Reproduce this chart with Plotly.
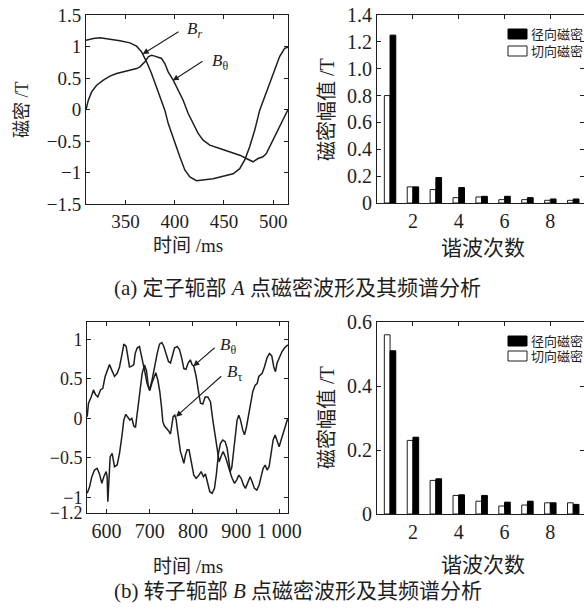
import plotly.graph_objects as go

# ---------------- data ----------------
# (a) stator yoke point A
time_a_r = [310, 317.4, 324.2, 334.3, 344.4, 354.6, 361.3, 366.4, 371.5, 376.5, 381.6, 386.7, 390, 393.4,
            396.8, 400.2, 405.2, 410.3, 415.4, 422.1, 428.9, 439, 449.1, 459.3, 466, 471.1, 476.1, 481.2,
            486.3, 491.3, 496.4, 501.5, 506.5, 511.6, 515]
b_a_r = [1.10, 1.127, 1.138, 1.116, 1.09, 1.058, 1.005, 0.915, 0.757, 0.571, 0.36, 0.148, -0.01, -0.22,
         -0.38, -0.54, -0.75, -0.96, -1.07, -1.13, -1.12, -1.10, -1.06, -1.02, -0.94, -0.80, -0.59, -0.33,
         -0.01, 0.20, 0.41, 0.62, 0.84, 0.97, 0.99]
time_a_t = [310, 312.4, 315.7, 320.8, 327.6, 334.3, 341.1, 347.8, 354.6, 361.3, 364.7, 369.8, 373.2, 376.5,
            379.9, 383.3, 386.7, 390, 393.4, 398.5, 403.5, 408.6, 413.7, 418.7, 423.8, 428.9, 435.6, 445.8,
            455.9, 466, 472.8, 479.5, 484.6, 489.6, 493, 498.1, 503.1, 508.2, 513.3, 515]
b_a_t = [0.0, 0.148, 0.28, 0.386, 0.466, 0.53, 0.571, 0.598, 0.624, 0.65, 0.677, 0.757, 0.836, 0.862,
         0.847, 0.825, 0.81, 0.73, 0.598, 0.466, 0.307, 0.148, -0.063, -0.22, -0.38, -0.487, -0.566, -0.62,
         -0.67, -0.725, -0.778, -0.83, -0.778, -0.75, -0.70, -0.54, -0.38, -0.22, -0.063, 0.0]

# (b) rotor yoke point B
time_b_t = [555.4, 558.5, 564.6, 570, 574.6, 580, 586.2, 591.6, 597, 603.2, 607, 612.4, 618.6, 624.8, 630.2,
            635.6, 640.2, 645.6, 649.5, 653.3, 658.7, 663.3, 666.4, 671, 676.4, 681.8, 688, 694.1, 699.5,
            705.7, 711.1, 717.3, 722.7, 728.1, 732.7, 738.1, 743.5, 748.1, 752, 757.4, 763.5, 769, 774.3,
            779, 784, 789, 794, 798, 802, 807.5, 812.9, 817.5, 822.9, 828.3, 834.5, 840.6, 846, 851.4,
            856.1, 860.7, 865.3, 869.9, 876, 881, 886, 890, 894, 898, 902.3, 906.2, 910, 915.4, 919.3,
            923.9, 928.5, 933.2, 938.6, 944, 948.6, 952.4, 956.3, 960.1, 965.5, 971.7, 977.1, 982.5, 987.1,
            991, 994.8, 1000.2, 1005.6, 1011.8, 1019.5]
b_b_t = [0.02, 0.19, 0.27, 0.36, 0.30, 0.27, 0.36, 0.38, 0.53, 0.61, 0.68, 0.61, 0.53, 0.57, 0.65,
         0.80, 0.94, 0.91, 0.76, 0.65, 0.66, 0.68, 0.82, 0.89, 0.91, 0.78, 0.61, 0.44, 0.36,
         0.49, 0.65, 0.82, 0.94, 0.96, 0.91, 0.80, 0.72, 0.70, 0.78, 0.89, 0.91, 0.87, 0.76,
         0.63, 0.62, 0.70, 0.74, 0.68, 0.66, 0.53, 0.34, 0.19, 0.18, 0.27, 0.27, 0.21, -0.02, -0.23,
         -0.40, -0.55, -0.48, -0.42, -0.50, -0.60, -0.68, -0.62, -0.44, -0.23, -0.02, 0.04, -0.02, -0.15, -0.21,
         -0.11, 0.02, 0.19, 0.34, 0.42, 0.44, 0.53, 0.55, 0.57, 0.65, 0.77, 0.82, 0.79, 0.65,
         0.59, 0.70, 0.78, 0.84, 0.89, 0.93]
time_b_r = [555.4, 560.8, 566.2, 572.3, 578.5, 583.9, 589.3, 593.9, 599.3, 601.6, 603.2, 605.5, 608.6, 613.2,
            618.6, 624.8, 630.2, 635.6, 640.2, 644.8, 649.5, 654.1, 658.7, 663.3, 667.2, 671, 674.9, 678.7,
            682.6, 688, 692.6, 696.5, 700.3, 705, 709.6, 714.2, 718.8, 723.4, 727.3, 730.4, 734.2, 738.9,
            743.5, 748.1, 751.2, 754.3, 758.1, 761.2, 764.3, 767.4, 771.2, 775.9, 779, 782.8, 786.7, 791,
            797.5, 802.1, 807.5, 812.9, 819, 824.4, 829, 834.5, 839.1, 844.5, 849.9, 854.5, 859.1, 863.8,
            869.2, 874.6, 879.2, 883, 886.9, 890.8, 896.2, 901.5, 906.2, 911.6, 917, 921.6, 927, 932.4,
            937, 942.4, 947.8, 953.2, 957.8, 962.5, 967.1, 971.7, 976.3, 981, 985.6, 990.2, 994.8, 999.5,
            1004.1, 1009.5, 1014.9, 1019.5]
b_b_r = [-0.95, -0.87, -0.74, -0.655, -0.634, -0.706, -0.824, -0.74, -0.676, -0.74, -1.057, -0.74, -0.486, -0.444,
         -0.613, -0.592, -0.444, -0.233, -0.022, 0.05, 0.012, -0.022, 0.0, -0.098, -0.115, 0.063, 0.265, 0.443,
         0.57, 0.675, 0.603, 0.42, 0.35, 0.443, 0.527, 0.578, 0.485, 0.337, 0.147, -0.043, -0.098, -0.127,
         -0.157, -0.199, -0.106, 0.02, 0.041, -0.013, -0.149, -0.296, -0.423, -0.507, -0.57, -0.465, -0.40, -0.40,
         -0.613, -0.72, -0.76, -0.73, -0.676, -0.74, -0.706, -0.824, -0.93, -0.95, -0.888, -0.70, -0.444, -0.317,
         -0.275, -0.296, -0.38, -0.53, -0.70, -0.76, -0.824, -0.78, -0.72, -0.76, -0.845, -0.888, -0.824, -0.74,
         -0.803, -0.888, -0.909, -0.845, -0.74, -0.634, -0.592, -0.655, -0.613, -0.444, -0.275, -0.212, -0.296, -0.36,
         -0.275, -0.17, -0.064, 0.0]

# harmonic spectra
harmonics = [1, 2, 3, 4, 5, 6, 7, 8, 9]
radial_a = [1.25, 0.12, 0.19, 0.115, 0.05, 0.05, 0.04, 0.03, 0.03]
tangential_a = [0.80, 0.12, 0.10, 0.04, 0.045, 0.025, 0.025, 0.02, 0.02]
radial_b = [0.51, 0.24, 0.11, 0.06, 0.058, 0.037, 0.04, 0.035, 0.03]
tangential_b = [0.56, 0.23, 0.105, 0.058, 0.04, 0.025, 0.028, 0.035, 0.035]

legend_radial = "径向磁密"
legend_tangential = "切向磁密"

# ---------------- figure ----------------
W, H = 584, 611
FONT = "Liberation Serif, Times New Roman, Noto Sans CJK SC, serif"
INK = "#1e1e1e"

def px_x(p):
    return p / W

def px_y(p):
    return 1 - p / H

fig = go.Figure()

line_style = dict(color=INK, width=1.5)
fig.add_trace(go.Scatter(x=time_a_r, y=b_a_r, mode="lines", line=line_style, xaxis="x", yaxis="y"))
fig.add_trace(go.Scatter(x=time_a_t, y=b_a_t, mode="lines", line=line_style, xaxis="x", yaxis="y"))
fig.add_trace(go.Scatter(x=time_b_t, y=b_b_t, mode="lines", line=line_style, xaxis="x3", yaxis="y3"))
fig.add_trace(go.Scatter(x=time_b_r, y=b_b_r, mode="lines", line=line_style, xaxis="x3", yaxis="y3"))

bw = 0.25
fig.add_trace(go.Bar(x=harmonics, y=tangential_a, name=legend_tangential, width=bw, offset=-bw,
                     marker=dict(color="white", line=dict(color=INK, width=1)), xaxis="x2", yaxis="y2"))
fig.add_trace(go.Bar(x=harmonics, y=radial_a, name=legend_radial, width=bw, offset=0,
                     marker=dict(color="black", line=dict(color="black", width=1)), xaxis="x2", yaxis="y2"))
fig.add_trace(go.Bar(x=harmonics, y=tangential_b, name=legend_tangential, width=bw, offset=-bw,
                     marker=dict(color="white", line=dict(color=INK, width=1)), xaxis="x4", yaxis="y4"))
fig.add_trace(go.Bar(x=harmonics, y=radial_b, name=legend_radial, width=bw, offset=0,
                     marker=dict(color="black", line=dict(color="black", width=1)), xaxis="x4", yaxis="y4"))


def axis(size, **kw):
    d = dict(showline=True, linecolor=INK, linewidth=1, mirror="ticks", ticks="inside",
             ticklen=4, tickcolor=INK, showgrid=False, zeroline=False, automargin=False,
             tickfont=dict(family=FONT, size=size, color=INK))
    d.update(kw)
    return d

fig.update_layout(
    template="none",
    width=W, height=H,
    margin=dict(l=0, r=0, t=0, b=0, pad=0),
    paper_bgcolor="white", plot_bgcolor="white",
    font=dict(family=FONT, color=INK),
    showlegend=False,
    xaxis=axis(19, domain=[px_x(86), px_x(288)], anchor="y", range=[310, 515],
               tickvals=[350, 400, 450, 500]),
    yaxis=axis(19, domain=[px_y(204), px_y(15)], anchor="x", range=[-1.5, 1.5],
               tickvals=[-1.5, -1, -0.5, 0, 0.5, 1, 1.5],
               ticktext=["−1.5", "−1", "−0.5", "0", "0.5", "1", "1.5"]),
    xaxis2=axis(20, domain=[px_x(377), 1.0], anchor="y2", range=[0.43, 9.47],
                tickvals=[2, 4, 6, 8]),
    yaxis2=axis(20, domain=[px_y(203), px_y(15)], anchor="x2", range=[0, 1.4],
                tickvals=[0, 0.2, 0.4, 0.6, 0.8, 1.0, 1.2, 1.4],
                ticktext=["0", "0.2", "0.4", "0.6", "0.8", "1.0", "1.2", "1.4"]),
    xaxis3=axis(20, domain=[px_x(87), px_x(288)], anchor="y3", range=[555, 1020],
                tickvals=[600, 700, 800, 900, 1000],
                ticktext=["600", "700", "800", "900", "1 000"]),
    yaxis3=axis(18, domain=[px_y(513), px_y(322)], anchor="x3", range=[-1.2, 1.22],
                tickvals=[-1.2, -1, -0.5, 0, 0.5, 1],
                ticktext=["−1.2", "−1", "−0.5", "0", "0.5", "1"]),
    xaxis4=axis(20, domain=[px_x(377), 1.0], anchor="y4", range=[0.43, 9.47],
                tickvals=[2, 4, 6, 8]),
    yaxis4=axis(20, domain=[px_y(514), px_y(322)], anchor="x4", range=[0, 0.6],
                tickvals=[0, 0.2, 0.4, 0.6], ticktext=["0", "0.2", "0.4", "0.6"]),
)

ann = []
def text_ann(x, y, text, size, xref="paper", yref="paper", xanchor="center", yanchor="middle", angle=0):
    ann.append(dict(x=x, y=y, xref=xref, yref=yref, text=text, showarrow=False,
                    xanchor=xanchor, yanchor=yanchor, textangle=angle,
                    font=dict(family=FONT, size=size, color=INK)))

# axis titles
text_ann(px_x(22), px_y(110), "磁密 /T", 18, angle=-90)
text_ann(px_x(188), px_y(245), "时间 /ms", 19)
text_ann(px_x(327), px_y(110), "磁密幅值 /T", 20, angle=-90)
text_ann(px_x(483), px_y(248), "谐波次数", 21)
text_ann(px_x(327), px_y(418), "磁密幅值 /T", 20, angle=-90)
text_ann(px_x(188), px_y(566), "时间 /ms", 19)
text_ann(px_x(483), px_y(565), "谐波次数", 21)
# captions
text_ann(px_x(112), px_y(288), "(a) 定子轭部 <i>A</i> 点磁密波形及其频谱分析", 21, xanchor="left")
text_ann(px_x(112), px_y(591), "(b) 转子轭部 <i>B</i> 点磁密波形及其频谱分析", 21, xanchor="left")

# curve labels
text_ann(410.5, 1.26, "<i>B</i><sub><i>r</i></sub>", 17, xref="x", yref="y", xanchor="left")
text_ann(436, 0.76, "<i>B</i><sub>θ</sub>", 17, xref="x", yref="y", xanchor="left")
text_ann(858, 0.91, "<i>B</i><sub>θ</sub>", 17, xref="x3", yref="y3", xanchor="left")
text_ann(874, 0.58, "<i>B</i><sub>τ</sub>", 17, xref="x3", yref="y3", xanchor="left")

def arrow(x, y, ax, ay, xr, yr):
    ann.append(dict(x=x, y=y, ax=ax, ay=ay, xref=xr, yref=yr, axref=xr, ayref=yr,
                    text="", showarrow=True, arrowhead=2, arrowsize=1.1, arrowwidth=1.1,
                    arrowcolor=INK))

arrow(367.5, 0.88, 405.4, 1.25, "x", "y")
arrow(398.0, 0.46, 429.8, 0.78, "x", "y")
arrow(801.0, 0.66, 853.8, 0.91, "x3", "y3")
arrow(761.0, 0.02, 869.0, 0.55, "x3", "y3")

# hand-drawn legends (top and bottom spectra)
shapes = []
def legend_block(y_black, y_white):
    shapes.append(dict(type="rect", xref="paper", yref="paper",
                       x0=px_x(508), x1=px_x(527), y0=px_y(y_black + 5), y1=px_y(y_black - 5),
                       fillcolor="black", line=dict(color="black", width=1)))
    shapes.append(dict(type="rect", xref="paper", yref="paper",
                       x0=px_x(508), x1=px_x(527), y0=px_y(y_white + 5), y1=px_y(y_white - 5),
                       fillcolor="white", line=dict(color=INK, width=1)))
    text_ann(px_x(529), px_y(y_black), legend_radial, 13, xanchor="left")
    text_ann(px_x(529), px_y(y_white), legend_tangential, 13, xanchor="left")

legend_block(34, 51)
legend_block(341, 356)

fig.update_layout(annotations=ann, shapes=shapes)

# remove the browser's default page margin so the 584x611 figure fills the window exactly
fig.write_html("out.html", config={"displayModeBar": False, "staticPlot": True},
               post_script="document.body.style.margin='0';document.body.style.padding='0';")
